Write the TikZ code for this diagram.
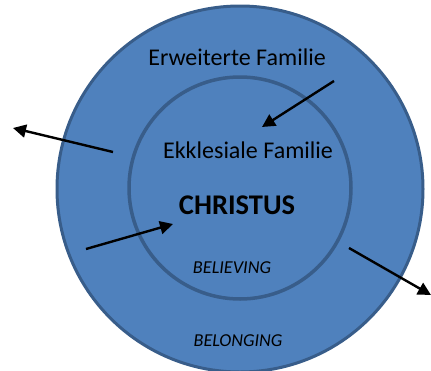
\documentclass[tikz,border=0pt]{standalone}
\usepackage{fontspec}
\setmainfont{Carlito}
\definecolor{RingBlue}{RGB}{79, 129, 189}
\definecolor{RingEdge}{RGB}{56, 93, 138}
\usetikzlibrary{arrows.meta, positioning, shapes, calc}

\begin{document}
\begin{tikzpicture}[x=1pt, y=-1pt]
        \tikzstyle{ring} = [circle, draw=RingEdge, fill=RingBlue, inner sep=0pt]
        \tikzstyle{label} = [font=\fontsize{24}{28}\selectfont, text=black]
        \tikzstyle{motto} = [font=\fontsize{18.2}{21}\selectfont\itshape, text=black]
        \tikzstyle{arrow} = [-{Triangle[length=13pt, width=13pt]}, line width=2.4pt, black]

        \useasboundingbox (0,0) rectangle (431,370);

        % Circles
        \node (outer) [ring, minimum size=366pt, line width=3pt] at (240,189) {};
        \node (inner) [ring, minimum size=222pt, line width=3.5pt] at (240,188) {};

        % Labels
        \node (erw) [label] at (237,57) {Erweiterte Familie};
        \node (ekk) [label] at (248,150) {Ekklesiale Familie};
        \node (christ) [font=\fontsize{28.5}{32}\selectfont\bfseries] at (237,205) {CHRISTUS};
        \node (believe) [motto] at (232,268) {BELIEVING};
        \node (belong) [motto] at (238,341) {BELONGING};

        % Arrow ends
        \coordinate (outA) at (113,152);
        \coordinate (outB) at (13,128);
        \coordinate (inA) at (334,81);
        \coordinate (inB) at (262,127);
        \coordinate (toA) at (86,249);
        \coordinate (toB) at (173,224);
        \coordinate (awayA) at (349,248);
        \coordinate (awayB) at (431,295);

        % Arrows
        \draw [arrow] (outA) -- (outB);
        \draw [arrow] (inA) -- (inB);
        \draw [arrow] (toA) -- (toB);
        \draw [arrow] (awayA) -- (awayB);
    \end{tikzpicture}
\end{document}
